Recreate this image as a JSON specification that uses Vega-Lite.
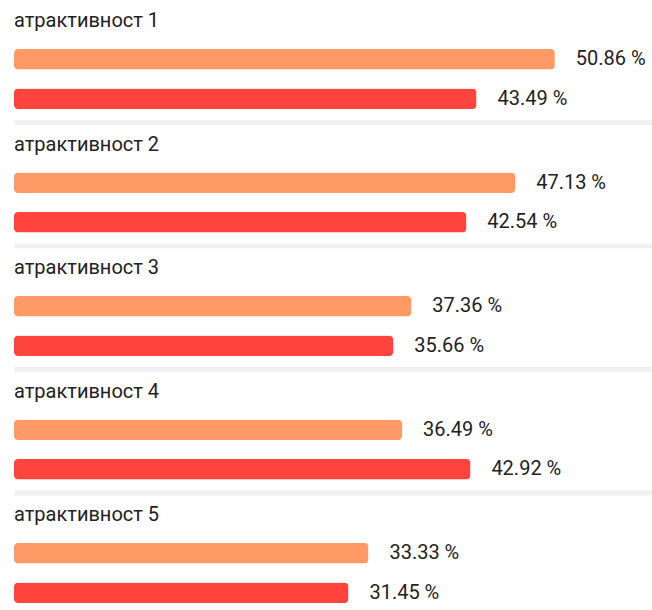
{
  "$schema": "https://vega.github.io/schema/vega-lite/v6.json",
  "background": "white",
  "padding": {"left": 14, "top": 11, "right": 0, "bottom": 0},
  "data": {
    "values": [
      {"group": "атрактивност 1", "series": "A", "value": 50.86, "label": "50.86 %"},
      {"group": "атрактивност 1", "series": "B", "value": 43.49, "label": "43.49 %"},
      {"group": "атрактивност 2", "series": "A", "value": 47.13, "label": "47.13 %"},
      {"group": "атрактивност 2", "series": "B", "value": 42.54, "label": "42.54 %"},
      {"group": "атрактивност 3", "series": "A", "value": 37.36, "label": "37.36 %"},
      {"group": "атрактивност 3", "series": "B", "value": 35.66, "label": "35.66 %"},
      {"group": "атрактивност 4", "series": "A", "value": 36.49, "label": "36.49 %"},
      {"group": "атрактивност 4", "series": "B", "value": 42.92, "label": "42.92 %"},
      {"group": "атрактивност 5", "series": "A", "value": 33.33, "label": "33.33 %"},
      {"group": "атрактивност 5", "series": "B", "value": 31.45, "label": "31.45 %"}
    ]
  },
  "facet": {
    "field": "group",
    "type": "nominal",
    "title": null,
    "header": {
      "labelOrient": "top",
      "labelAnchor": "start",
      "labelAlign": "left",
      "labelFont": "Roboto",
      "labelFontSize": 20,
      "labelColor": "#222222",
      "labelPadding": 5
    }
  },
  "columns": 1,
  "spacing": 12.5,
  "resolve": {"axis": {"x": "independent"}},
  "spec": {
    "width": 638,
    "height": 86,
    "encoding": {
      "y": {"field": "series", "type": "nominal", "axis": null, "scale": {"paddingInner": 0.48, "paddingOuter": 0.33}},
      "x": {
        "field": "value",
        "type": "quantitative",
        "scale": {"domain": [0, 60]},
        "axis": {"orient": "bottom", "labels": false, "ticks": false, "grid": false, "title": null, "domainColor": "#F1F1F3", "domainWidth": 5}
      }
    },
    "layer": [
      {
        "mark": {"type": "bar", "cornerRadius": 4},
        "encoding": {
          "color": {"field": "series", "type": "nominal", "legend": null, "scale": {"domain": ["A", "B"], "range": ["#FF9966", "#FF443D"]}}
        }
      },
      {
        "mark": {"type": "text", "align": "left", "baseline": "middle", "dx": 21, "font": "Roboto", "fontSize": 20, "color": "#222222"},
        "encoding": {
          "text": {"field": "label"}
        }
      }
    ]
  },
  "config": {"view": {"stroke": null}}
}
